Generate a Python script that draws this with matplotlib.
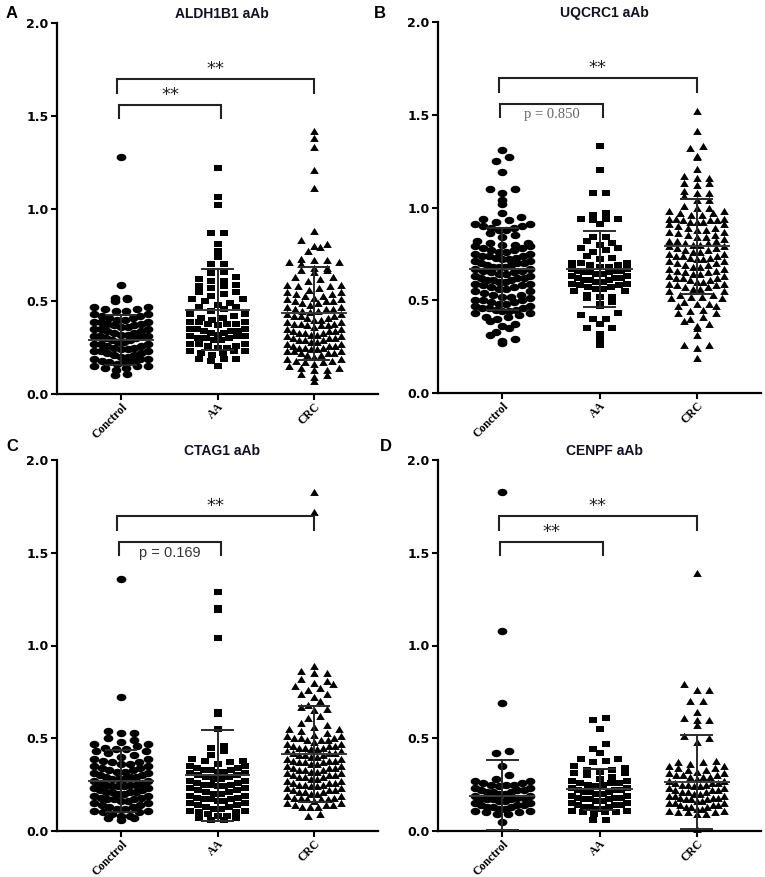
import numpy as np
import matplotlib
matplotlib.use('Agg')
import matplotlib.pyplot as plt
import matplotlib.transforms as mtransforms
from matplotlib.path import Path

GROUPS = ['Conctrol', 'AA', 'CRC']
TITLES = ['ALDH1B1 aAb', 'UQCRC1 aAb', 'CTAG1 aAb', 'CENPF aAb']
LETTERS = ['A', 'B', 'C', 'D']
YTICKS = [0.0, 0.5, 1.0, 1.5, 2.0]

# ---- panel A : ALDH1B1 ----
A_control = [0.10, 0.11,
             0.13, 0.14, 0.14, 0.15, 0.15, 0.15,
             0.16, 0.17, 0.17, 0.18, 0.18, 0.19, 0.19, 0.19,
             0.20, 0.20, 0.21, 0.21, 0.22, 0.22, 0.23, 0.23, 0.23,
             0.24, 0.24, 0.25, 0.25, 0.26, 0.26, 0.27, 0.27, 0.27,
             0.28, 0.28, 0.29, 0.29, 0.30, 0.30, 0.31, 0.31, 0.31, 0.31,
             0.32, 0.32, 0.33, 0.33, 0.34, 0.34, 0.35, 0.35, 0.35,
             0.36, 0.36, 0.37, 0.37, 0.38, 0.38, 0.39, 0.39, 0.39,
             0.40, 0.40, 0.41, 0.41, 0.42, 0.42, 0.43, 0.43,
             0.45, 0.45, 0.46, 0.46, 0.47, 0.47,
             0.50, 0.51, 0.52, 0.52, 0.59, 1.28]
A_aa = [0.15,
        0.18, 0.19, 0.19, 0.19,
        0.21, 0.22, 0.22, 0.23, 0.23, 0.23,
        0.25, 0.25, 0.26, 0.26, 0.27, 0.27, 0.27,
        0.29, 0.29, 0.30, 0.30, 0.30, 0.31, 0.31, 0.31,
        0.32, 0.33, 0.33, 0.34, 0.34, 0.34, 0.35, 0.35, 0.35,
        0.37, 0.38, 0.38, 0.38, 0.39, 0.39, 0.39,
        0.40, 0.41, 0.41, 0.42, 0.43, 0.43,
        0.45, 0.46, 0.47, 0.47,
        0.48, 0.49, 0.50, 0.51, 0.51,
        0.53, 0.54, 0.55, 0.55,
        0.57, 0.58, 0.58, 0.59,
        0.61, 0.61, 0.62, 0.63,
        0.65, 0.66, 0.70, 0.70, 0.74, 0.77, 0.81, 0.87, 0.87,
        1.02, 1.06, 1.22]
A_crc = [0.07, 0.09, 0.10, 0.11,
         0.13, 0.13, 0.14, 0.14, 0.15,
         0.16, 0.17, 0.17, 0.18, 0.18, 0.19, 0.19,
         0.20, 0.21, 0.21, 0.22, 0.22, 0.22, 0.23, 0.23, 0.23,
         0.24, 0.24, 0.25, 0.25, 0.25, 0.26, 0.26, 0.26, 0.27, 0.27,
         0.28, 0.28, 0.29, 0.29, 0.29, 0.30, 0.30, 0.30, 0.31, 0.31,
         0.32, 0.32, 0.33, 0.33, 0.33, 0.34, 0.34, 0.34, 0.35, 0.35,
         0.36, 0.37, 0.37, 0.37, 0.38, 0.38, 0.38, 0.39, 0.39,
         0.40, 0.40, 0.41, 0.41, 0.42, 0.42, 0.42, 0.43, 0.43,
         0.44, 0.45, 0.45, 0.46, 0.46, 0.46, 0.47, 0.47,
         0.48, 0.49, 0.49, 0.50, 0.50, 0.50, 0.51, 0.51,
         0.52, 0.53, 0.53, 0.54, 0.54, 0.55, 0.55,
         0.56, 0.57, 0.58, 0.58, 0.59, 0.59,
         0.61, 0.62, 0.63, 0.63,
         0.66, 0.67, 0.67, 0.68, 0.68,
         0.70, 0.71, 0.71, 0.72, 0.72, 0.73,
         0.77, 0.79, 0.80, 0.81, 0.83, 0.88,
         1.11, 1.21, 1.33, 1.38, 1.42]
A_mean = [0.29, 0.455, 0.435]
A_sd = [0.135, 0.22, 0.25]
A_sig = ['**', '**']  # Control vs CRC, Control vs AA

# ---- panel B : UQCRC1 ----
B_control = [0.27, 0.28, 0.29, 0.31, 0.33, 0.35, 0.36, 0.37,
             0.39, 0.40, 0.41, 0.41, 0.42,
             0.43, 0.43, 0.44, 0.44, 0.45, 0.45, 0.46, 0.46, 0.46,
             0.47, 0.47, 0.48, 0.48, 0.49, 0.49, 0.50, 0.50, 0.50,
             0.51, 0.52, 0.52, 0.53, 0.53, 0.54,
             0.55, 0.55, 0.56, 0.56, 0.57, 0.57, 0.58, 0.58,
             0.59, 0.59, 0.60, 0.60, 0.61, 0.61, 0.61, 0.62, 0.62, 0.62,
             0.63, 0.63, 0.64, 0.64, 0.65, 0.65, 0.66, 0.66,
             0.67, 0.67, 0.68, 0.68, 0.68, 0.69, 0.69, 0.70, 0.70, 0.70,
             0.71, 0.71, 0.72, 0.72, 0.73, 0.73, 0.74, 0.74, 0.74,
             0.75, 0.75, 0.76, 0.76, 0.77, 0.77, 0.78, 0.78,
             0.79, 0.79, 0.80, 0.80, 0.81, 0.81, 0.82,
             0.84, 0.85, 0.86,
             0.88, 0.88, 0.89, 0.89, 0.90, 0.90, 0.91, 0.91,
             0.92, 0.93, 0.94, 0.95, 0.97,
             1.02, 1.04, 1.08, 1.10, 1.10, 1.19, 1.25, 1.27, 1.31]
B_aa = [0.26, 0.29, 0.32, 0.35, 0.35, 0.37, 0.40, 0.40, 0.42, 0.43,
        0.47, 0.48, 0.49, 0.51, 0.52, 0.52, 0.53,
        0.55, 0.55, 0.56, 0.56, 0.57, 0.57, 0.58, 0.58,
        0.59, 0.59, 0.60, 0.60, 0.61, 0.61, 0.61, 0.62, 0.62, 0.62,
        0.63, 0.63, 0.64, 0.64, 0.65, 0.65, 0.65, 0.66, 0.66, 0.66,
        0.67, 0.67, 0.68, 0.68, 0.69, 0.69, 0.70, 0.70, 0.70,
        0.72, 0.73, 0.74, 0.76, 0.77, 0.78, 0.78,
        0.80, 0.81, 0.82, 0.84, 0.84,
        0.91, 0.93, 0.94, 0.94, 0.94, 0.96, 0.97,
        1.08, 1.08, 1.20, 1.33]
B_crc = [0.19, 0.24, 0.26, 0.26, 0.31, 0.35, 0.36, 0.37, 0.39, 0.40, 0.41,
         0.43, 0.43, 0.44, 0.45,
         0.47, 0.47, 0.48, 0.48, 0.49,
         0.51, 0.51, 0.52, 0.52, 0.53, 0.53,
         0.55, 0.55, 0.56, 0.56, 0.57, 0.57, 0.58, 0.58,
         0.59, 0.59, 0.60, 0.60, 0.61, 0.61, 0.62, 0.62, 0.62,
         0.63, 0.63, 0.64, 0.64, 0.65, 0.65, 0.66, 0.66,
         0.67, 0.67, 0.68, 0.68, 0.69, 0.69, 0.70, 0.70,
         0.71, 0.71, 0.72, 0.72, 0.73, 0.73, 0.74, 0.74, 0.74,
         0.75, 0.75, 0.76, 0.76, 0.77, 0.77, 0.78, 0.78,
         0.79, 0.79, 0.80, 0.80, 0.81, 0.81, 0.82, 0.82, 0.82,
         0.83, 0.84, 0.84, 0.85, 0.85, 0.86,
         0.87, 0.87, 0.88, 0.88, 0.89, 0.89, 0.90,
         0.91, 0.91, 0.92, 0.92, 0.92, 0.93, 0.93, 0.93, 0.94, 0.94, 0.94,
         0.96, 0.96, 0.97, 0.97, 0.98, 0.98,
         1.00, 1.00, 1.01, 1.04, 1.04, 1.06, 1.08, 1.08, 1.09,
         1.12, 1.13, 1.13, 1.16, 1.16, 1.17, 1.21, 1.27, 1.28,
         1.32, 1.33, 1.41, 1.52]
B_mean = [0.67, 0.67, 0.79]
B_sd = [0.22, 0.205, 0.255]
B_sig = ['**', 'p = 0.850']

# ---- panel C : CTAG1 ----
C_control = [0.06, 0.07, 0.07, 0.08, 0.08, 0.09,
             0.10, 0.10, 0.11, 0.11, 0.12, 0.12, 0.13, 0.13,
             0.14, 0.14, 0.15, 0.15, 0.16, 0.16, 0.17, 0.17, 0.17,
             0.18, 0.18, 0.19, 0.19, 0.20, 0.20, 0.21, 0.21, 0.21, 0.21,
             0.22, 0.22, 0.23, 0.23, 0.24, 0.24, 0.24, 0.25, 0.25, 0.25,
             0.26, 0.26, 0.27, 0.27, 0.28, 0.28, 0.28, 0.29, 0.29, 0.29,
             0.30, 0.30, 0.31, 0.31, 0.32, 0.32, 0.33, 0.33,
             0.34, 0.34, 0.35, 0.35, 0.36, 0.36, 0.37, 0.37,
             0.38, 0.39, 0.39, 0.40, 0.41,
             0.42, 0.43, 0.43, 0.44, 0.44, 0.45,
             0.46, 0.47, 0.47, 0.48,
             0.49, 0.50, 0.53, 0.53, 0.54, 0.72, 1.36]
C_aa = [0.06, 0.06, 0.07, 0.07, 0.08, 0.08, 0.09,
        0.10, 0.10, 0.11, 0.11, 0.12, 0.12, 0.13, 0.13,
        0.14, 0.14, 0.15, 0.15, 0.16, 0.16, 0.17, 0.17, 0.17,
        0.18, 0.18, 0.19, 0.19, 0.20, 0.20, 0.21, 0.21,
        0.22, 0.22, 0.23, 0.23, 0.24, 0.24, 0.25, 0.25, 0.25,
        0.26, 0.26, 0.27, 0.27, 0.28, 0.28, 0.29, 0.29,
        0.30, 0.30, 0.31, 0.31, 0.32, 0.32, 0.33, 0.33, 0.33,
        0.34, 0.34, 0.35, 0.35, 0.36, 0.37,
        0.38, 0.38, 0.39,
        0.41, 0.43, 0.45, 0.46,
        0.55, 0.63, 0.64, 1.04, 1.19, 1.20, 1.29]
C_crc = [0.08, 0.09,
         0.13, 0.13, 0.13, 0.14, 0.14, 0.14, 0.15, 0.15,
         0.16, 0.17, 0.17, 0.17, 0.18, 0.18, 0.18, 0.19, 0.19,
         0.20, 0.20, 0.21, 0.21, 0.21, 0.22, 0.22, 0.22, 0.23, 0.23,
         0.24, 0.24, 0.25, 0.25, 0.25, 0.26, 0.26, 0.26, 0.27, 0.27,
         0.28, 0.28, 0.29, 0.29, 0.29, 0.30, 0.30, 0.30, 0.31, 0.31,
         0.32, 0.32, 0.33, 0.33, 0.33, 0.34, 0.34, 0.34, 0.35, 0.35,
         0.36, 0.36, 0.37, 0.37, 0.37, 0.38, 0.38, 0.38, 0.39, 0.39,
         0.40, 0.40, 0.41, 0.41, 0.41, 0.42, 0.42, 0.42, 0.43, 0.43,
         0.44, 0.44, 0.45, 0.45, 0.45, 0.46, 0.46, 0.46, 0.47, 0.47,
         0.48, 0.49, 0.49, 0.49, 0.50, 0.50, 0.50, 0.51, 0.51,
         0.52, 0.53, 0.54, 0.55, 0.55,
         0.56, 0.57, 0.58, 0.61, 0.62,
         0.65, 0.66, 0.67, 0.68, 0.70,
         0.72, 0.74, 0.74, 0.76, 0.77, 0.78, 0.79,
         0.80, 0.81, 0.82, 0.85, 0.85, 0.86, 0.89,
         1.72, 1.83]
C_mean = [0.27, 0.30, 0.415]
C_sd = [0.165, 0.245, 0.26]
C_sig = ['**', 'p = 0.169']

# ---- panel D : CENPF ----
D_control = [0.05,
             0.09, 0.09, 0.10, 0.10, 0.11, 0.11,
             0.12, 0.12, 0.13, 0.13, 0.13, 0.14, 0.14, 0.14, 0.15, 0.15,
             0.16, 0.16, 0.17, 0.17, 0.17, 0.18, 0.18, 0.18, 0.19, 0.19,
             0.20, 0.20, 0.21, 0.21, 0.21, 0.22, 0.22, 0.22, 0.23, 0.23,
             0.24, 0.25, 0.25, 0.25, 0.26, 0.26, 0.27, 0.27,
             0.28, 0.30, 0.35, 0.42, 0.43, 0.69, 1.08, 1.83]
D_aa = [0.06, 0.06,
        0.09, 0.10, 0.10, 0.10, 0.11, 0.11,
        0.12, 0.12, 0.13, 0.13, 0.13, 0.14, 0.14, 0.14, 0.15, 0.15,
        0.16, 0.16, 0.17, 0.17, 0.17, 0.18, 0.18, 0.18, 0.19, 0.19,
        0.20, 0.20, 0.21, 0.21, 0.21, 0.22, 0.22, 0.22, 0.23, 0.23,
        0.24, 0.25, 0.25, 0.26, 0.26, 0.26, 0.27, 0.27,
        0.28, 0.29, 0.30, 0.31, 0.31,
        0.32, 0.33, 0.33, 0.34, 0.35,
        0.37, 0.38, 0.39, 0.39,
        0.42, 0.44, 0.47, 0.55, 0.60, 0.61]
D_crc = [0.01,
         0.09, 0.09, 0.10, 0.10, 0.10, 0.11, 0.11,
         0.12, 0.12, 0.13, 0.13, 0.13, 0.14, 0.14, 0.14, 0.15, 0.15, 0.15,
         0.16, 0.16, 0.17, 0.17, 0.17, 0.18, 0.18, 0.18, 0.19, 0.19, 0.19,
         0.20, 0.20, 0.21, 0.21, 0.21, 0.22, 0.22, 0.22, 0.23, 0.23,
         0.24, 0.24, 0.25, 0.25, 0.25, 0.26, 0.26, 0.26, 0.27, 0.27,
         0.28, 0.29, 0.29, 0.29, 0.30, 0.30, 0.30, 0.31, 0.31,
         0.32, 0.33, 0.33, 0.34, 0.34, 0.35, 0.35,
         0.36, 0.37, 0.37, 0.38,
         0.48, 0.50, 0.51, 0.57, 0.60, 0.60, 0.61, 0.64,
         0.70, 0.70, 0.76, 0.76, 0.79, 1.39]
D_mean = [0.19, 0.225, 0.265]
D_sd = [0.195, 0.11, 0.255]
D_sig = ['**', '**']

PANELS = [
    ([A_control, A_aa, A_crc], A_mean, A_sd, A_sig),
    ([B_control, B_aa, B_crc], B_mean, B_sd, B_sig),
    ([C_control, C_aa, C_crc], C_mean, C_sd, C_sig),
    ([D_control, D_aa, D_crc], D_mean, D_sd, D_sig),
]

# the published figure is stretched sideways, so markers are a bit wider than tall
t = np.linspace(0, 2 * np.pi, 40)
ELLIPSE = Path(np.column_stack([np.cos(t), 0.76 * np.sin(t)]), closed=True)
RECT = Path([(-1, -0.75), (1, -0.75), (1, 0.75), (-1, 0.75), (-1, -0.75)], closed=True)
TRI = Path([(-1, -0.8), (1, -0.8), (0, 0.85), (-1, -0.8)], closed=True)
MARKERS = [(ELLIPSE, 7.0), (RECT, 6.4), (TRI, 6.2)]


def swarm(vals, center, bw=0.04, step=0.13, width=0.56):
    # GraphPad-like rows: bin the values, spread each bin from the centre out;
    # crowded rows get squeezed so they stay inside the column width
    v = np.sort(np.asarray(vals, dtype=float))
    bins = np.floor(v / bw + 1e-6).astype(int)
    xs = np.zeros(len(v))
    for b in np.unique(bins):
        idx = np.where(bins == b)[0]
        n = len(idx)
        s = step if n < 2 else min(step, width / (n - 1))
        for k, i in enumerate(idx):
            if n % 2:
                m = (k + 1) // 2
                off = m * s * (1 if k % 2 else -1)
            else:
                m = k // 2
                off = (m + 0.5) * s * (-1 if k % 2 == 0 else 1)
            xs[i] = center + off
    return xs, v


fig = plt.figure(figsize=(7.65, 8.77), dpi=100)
W, H = 765.0, 877.0
boxes = [(57, 23, 378, 394), (438, 22, 761, 393),
         (57, 460, 378, 831), (438, 460, 761, 831)]
letter_pos = [(12, 13), (380, 13), (12, 447), (386, 447)]

for p, (groups, means, sds, sig) in enumerate(PANELS):
    x0, y0, x1, y1 = boxes[p]
    ax = fig.add_axes([x0 / W, 1 - y1 / H, (x1 - x0) / W, (y1 - y0) / H])
    for g, vals in enumerate(groups):
        xs, ys = swarm(vals, g)
        mk, ms = MARKERS[g]
        ax.plot(xs, ys, ls='none', marker=mk, ms=ms, color='black',
                mew=0, zorder=2, clip_on=False)
        m, s = means[g], sds[g]
        ax.plot([g - 0.33, g + 0.33], [m, m], color='#3a3a3a', lw=1.4, zorder=3)
        ax.plot([g, g], [max(m - s, 0.005), m + s], color='#2a2a2a', lw=1.4, zorder=3)
        for c in (m + s, max(m - s, 0.005)):
            ax.plot([g - 0.16, g + 0.16], [c, c], color='#2a2a2a', lw=1.4, zorder=3)

    # significance brackets
    brackets = [(-0.04, 2.0, 1.70, 1.62), (-0.02, 1.04, 1.56, 1.49)]
    for b, (bl, br, top, leg) in enumerate(brackets):
        ax.plot([bl, bl, br, br], [leg, top, top, leg], color='#222222', lw=1.5,
                solid_joinstyle='miter', zorder=4)
        lab = sig[b]
        if lab == '**':
            ax.text((bl + br) / 2, top + 0.005, lab, ha='center', va='bottom',
                    fontsize=13, color='#222222', family='DejaVu Sans')
        elif p == 1:
            ax.text((bl + br) / 2, top - 0.06, lab, ha='center', va='center',
                    fontsize=10.5, color='#666666', family='Liberation Serif')
        else:
            ax.text((bl + br) / 2, top - 0.06, lab, ha='center', va='center',
                    fontsize=10.5, color='#333333', family='Liberation Sans')

    ax.set_xlim(-0.663, 2.663)
    ax.set_ylim(0, 2.0)
    for side in ('top', 'right'):
        ax.spines[side].set_visible(False)
    for side in ('left', 'bottom'):
        ax.spines[side].set_linewidth(1.6)
    ax.set_yticks(YTICKS)
    ax.set_yticklabels(['%.1f' % t for t in YTICKS], fontsize=9,
                       fontweight='bold', family='DejaVu Sans')
    ax.set_xticks([0, 1, 2])
    ax.set_xticklabels(GROUPS, rotation=45, ha='right', rotation_mode='anchor',
                       fontsize=8.5, fontweight='bold', family='Liberation Serif')
    ax.tick_params(axis='both', direction='out', length=4, width=1.5, pad=2)
    ax.tick_params(axis='x', pad=1)
    ax.patch.set_visible(False)

    trans = mtransforms.blended_transform_factory(ax.transData, ax.transAxes)
    ax.text(1.05, 1.005, TITLES[p], transform=trans, ha='center', va='bottom',
            fontsize=10, fontweight='bold', family='Liberation Sans', color='#111122')
    fig.text(letter_pos[p][0] / W, 1 - letter_pos[p][1] / H, LETTERS[p],
             ha='center', va='center', fontsize=12, fontweight='bold',
             family='Liberation Sans')

fig.savefig('out.png', dpi=100)
